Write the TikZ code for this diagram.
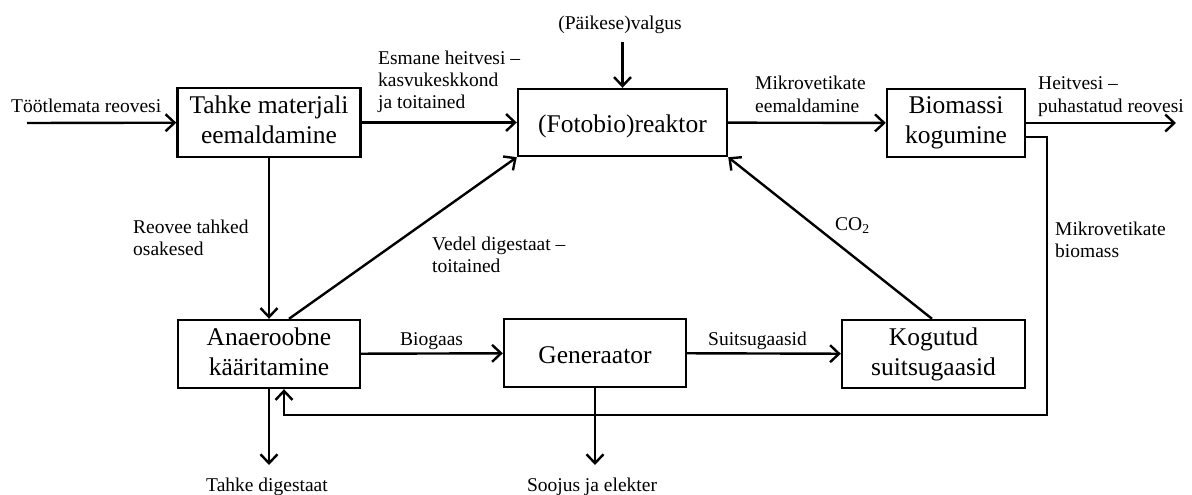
\documentclass[tikz,border=0pt]{standalone}
\usepackage{fontspec}
\setmainfont{Liberation Serif}
\usetikzlibrary{arrows.meta}

\begin{document}
\begin{tikzpicture}[
     x=1pt, y=-1pt,
     stage/.style={draw, line width=2.4pt, inner sep=0pt, align=center,
       font=\fontsize{25.5}{30}\selectfont,
       execute at begin node={\rule{0pt}{25pt}},
       execute at end node={\rule[-5pt]{0pt}{5pt}}},
     flow/.style={line width=2.4pt, -{Straight Barb[length=9pt,width=17pt]}},
     note/.style={inner sep=0pt, align=left, font=\fontsize{19.5}{22}\selectfont}
   ]
   \path[use as bounding box] (0,0) rectangle (1192,495);
   % Process stages.
   \node[stage, minimum width=183pt, minimum height=69pt] (solids) at (269,122.5) {Tahke materjali\\eemaldamine};
   \node[stage, minimum width=209pt, minimum height=67pt] (reactor) at (622.5,122.5) {(Fotobio)reaktor};
   \node[stage, minimum width=138pt, minimum height=68pt] (harvest) at (956,123) {Biomassi\\kogumine};
   \node[stage, minimum width=182pt, minimum height=68pt] (digester) at (269,354) {Anaeroobne\\kääritamine};
   \node[stage, minimum width=182pt, minimum height=68pt] (generator) at (595,353) {Generaator};
   \node[stage, minimum width=183pt, minimum height=68pt] (fluegas) at (933.5,354) {Kogutud\\suitsugaasid};
   % Loose ends.
   \coordinate (inlet) at (27,123);
   \coordinate (outlet) at (1176,123);
   \coordinate (light) at (622.5,42);
   \coordinate (solidout) at (269,465);
   \coordinate (heatout) at (595,465);
   \coordinate (loop) at (1047,415);
   % Flows.
   \draw[flow] (inlet) -- (solids);
   \draw[flow] (solids) -- (reactor);
   \draw[flow] (light) -- (reactor.north);
   \draw[flow] (reactor) -- (harvest);
   \draw[flow] (harvest) -- (outlet);
   \draw[flow] (solids) -- (digester);
   \draw[flow] ([xshift=20pt]digester.north) -- (reactor.south west);
   \draw[flow] ([xshift=-1.5pt]fluegas.north) -- (reactor.south east);
   \draw[flow] (digester) -- (generator);
   \draw[flow] (generator) -- (fluegas);
   \draw[flow] (digester) -- (solidout);
   \draw[flow] (generator) -- (heatout);
   \draw[flow] ([yshift=-14pt]harvest.east) -| (loop) -| ([xshift=15pt]digester.south);
   % Labels (base is the last line).
   \node[note, anchor=base west] (rawlbl) at (11,113) {Töötlemata reovesi};
   \node[note, anchor=base west] (primlbl) at (378,109) {Esmane heitvesi –\\kasvukeskkond\\ja toitained};
   \node[note, anchor=base] (lightlbl) at (620,30) {(Päikese)valgus};
   \node[note, anchor=base west] (algaelbl) at (755,112) {Mikrovetikate\\eemaldamine};
   \node[note, anchor=base west] (effllbl) at (1038,112) {Heitvesi –\\puhastatud reovesi};
   \node[note, anchor=base west] (sludgelbl) at (133,255) {Reovee tahked\\osakesed};
   \node[note, anchor=base west] (liqlbl) at (432,272) {Vedel digestaat –\\toitained};
   \node[note, anchor=base west] (co2lbl) at (835,230) {CO\textsubscript{2}};
   \node[note, anchor=base west] (masslbl) at (1055,257) {Mikrovetikate\\biomass};
   \node[note, anchor=base west] (biogaslbl) at (400,345) {Biogaas};
   \node[note, anchor=base west] (fluelbl) at (708,345) {Suitsugaasid};
   \node[note, anchor=base] (digestlbl) at (267,491) {Tahke digestaat};
   \node[note, anchor=base] (heatlbl) at (592,491) {Soojus ja elekter};
 \end{tikzpicture}
\end{document}
